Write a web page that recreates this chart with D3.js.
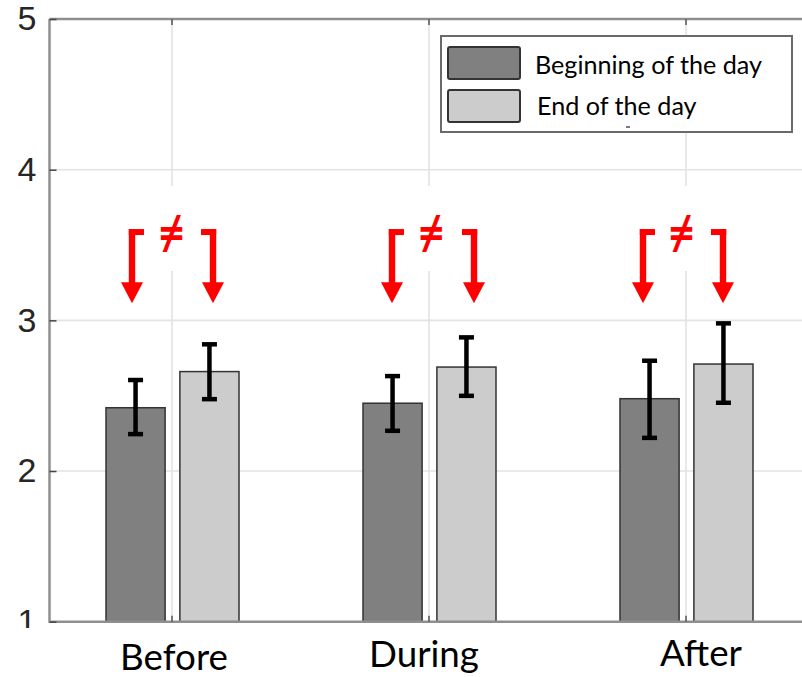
<!DOCTYPE html>
<html><head><meta charset="utf-8">
<script src="https://cdn.jsdelivr.net/npm/d3@7"></script>
<style>html,body{margin:0;padding:0;background:#fff;}svg{display:block;}</style>
</head><body>
<svg id="chart" width="802" height="677"></svg>
<script>
// ---------- data ----------
const categories = ["Before", "During", "After"];
const series = ["Beginning of the day", "End of the day"];
const beginMean = [2.42, 2.45, 2.48];
const beginLow  = [2.245, 2.267, 2.22];
const beginHigh = [2.604, 2.63, 2.732];
const endMean   = [2.66, 2.69, 2.71];
const endLow    = [2.477, 2.499, 2.453];
const endHigh   = [2.841, 2.887, 2.98];
const yTicks = [1, 2, 3, 4, 5];
const annotationSymbol = "≠";

// ---------- layout ----------
const W = 802, H = 677;
const axisLeft = 49.5, axisRight = 803, axisTop = 19, axisBottom = 621.7;
const colors = ["#808080", "#cccccc"];
const svg = d3.select("#chart");

const y = d3.scaleLinear().domain([1, 5]).range([axisBottom, axisTop]);
const x = d3.scaleLinear().domain([1, 3]).range([172, 686]);
const sub = d3.scaleBand().domain(series).range([-66, 67]).paddingInner(0.2);

const rows = categories.map((c, i) => ({
  cat: c, i,
  vals: [
    {s: series[0], m: beginMean[i], lo: beginLow[i], hi: beginHigh[i]},
    {s: series[1], m: endMean[i], lo: endLow[i], hi: endHigh[i]}
  ]
}));

svg.append("rect").attr("width", W).attr("height", H).attr("fill", "#fff");

// grid
const grid = svg.append("g");
grid.selectAll(".hg").data(yTicks.slice(1, -1)).join("line")
  .attr("x1", axisLeft).attr("x2", axisRight)
  .attr("y1", d => y(d)).attr("y2", d => y(d))
  .attr("stroke", "#e3e3e3").attr("stroke-width", 1.6);
grid.selectAll(".vg").data(categories).join("line")
  .attr("x1", (d, i) => x(i + 1)).attr("x2", (d, i) => x(i + 1))
  .attr("y1", axisTop).attr("y2", axisBottom)
  .attr("stroke", "#e3e3e3").attr("stroke-width", 1.6);
// white patch from pasted annotation image
svg.append("rect").attr("x", axisLeft + 2).attr("y", 186).attr("width", W).attr("height", 85).attr("fill", "#fff");

// bars
const g = svg.selectAll(".grp").data(rows).join("g")
  .attr("transform", d => `translate(${x(d.i + 1)},0)`);
g.selectAll("rect.bar").data(d => d.vals).join("rect").attr("class", "bar")
  .attr("x", d => sub(d.s)).attr("width", sub.bandwidth())
  .attr("y", d => y(d.m)).attr("height", d => y(1) - y(d.m))
  .attr("fill", (d, j) => colors[j]).attr("stroke", "#333").attr("stroke-width", 1.5);

// error bars
const eb = g.selectAll("g.eb").data(d => d.vals).join("g").attr("class", "eb")
  .attr("transform", d => `translate(${sub(d.s) + sub.bandwidth() / 2},0)`);
eb.append("line").attr("y1", d => y(d.lo)).attr("y2", d => y(d.hi))
  .attr("stroke", "#000").attr("stroke-width", 4.5);
eb.append("line").attr("x1", -7.5).attr("x2", 7.5).attr("y1", d => y(d.hi)).attr("y2", d => y(d.hi))
  .attr("stroke", "#000").attr("stroke-width", 4.5);
eb.append("line").attr("x1", -7.5).attr("x2", 7.5).attr("y1", d => y(d.lo)).attr("y2", d => y(d.lo))
  .attr("stroke", "#000").attr("stroke-width", 4.5);

// axes frame
const axisColor = "#8f8f8f";
svg.append("line").attr("x1", axisLeft).attr("x2", axisLeft).attr("y1", axisTop).attr("y2", axisBottom + 1)
  .attr("stroke", axisColor).attr("stroke-width", 2.5);
svg.append("line").attr("x1", axisLeft).attr("x2", axisRight).attr("y1", axisBottom).attr("y2", axisBottom)
  .attr("stroke", axisColor).attr("stroke-width", 2.5);
svg.append("line").attr("x1", axisLeft).attr("x2", axisRight).attr("y1", axisTop).attr("y2", axisTop)
  .attr("stroke", axisColor).attr("stroke-width", 2.5);

// y axis ticks + labels via d3 axis
const yAxis = d3.axisLeft(y).tickValues(yTicks).tickFormat(d3.format("d")).tickSize(-7).tickPadding(20);
const ya = svg.append("g").attr("transform", `translate(${axisLeft},0)`).call(yAxis);
ya.select(".domain").remove();
ya.selectAll(".tick line").attr("stroke", "#444").attr("stroke-width", 1.5);
ya.selectAll(".tick text").attr("font-family", "'Liberation Sans', Arial, sans-serif")
  .attr("font-size", 34).attr("fill", "#262626").attr("x", -13);
// x ticks (inward) top & bottom
svg.selectAll(".xtb").data(categories).join("line")
  .attr("x1", (d, i) => x(i + 1)).attr("x2", (d, i) => x(i + 1))
  .attr("y1", axisBottom).attr("y2", axisBottom - 6).attr("stroke", "#555").attr("stroke-width", 1.5);
svg.selectAll(".xtt").data(categories).join("line")
  .attr("x1", (d, i) => x(i + 1)).attr("x2", (d, i) => x(i + 1))
  .attr("y1", axisTop).attr("y2", axisTop + 6).attr("stroke", "#555").attr("stroke-width", 1.5);

// legend
const lg = svg.append("g");
lg.append("rect").attr("x", 441).attr("y", 36).attr("width", 351).attr("height", 96)
  .attr("fill", "#fff").attr("stroke", "#6a6a6a").attr("stroke-width", 2);
const legTargets = [{x: 535, y: 73.5, w: 227}, {x: 537, y: 114.5, w: 161}];
const legendItems = lg.selectAll("g.li").data(series).join("g").attr("class", "li");
legendItems.append("rect").attr("x", 448).attr("y", (d, j) => j === 0 ? 47 : 90)
  .attr("width", 72).attr("height", 32).attr("rx", 2)
  .attr("fill", (d, j) => colors[j]).attr("stroke", "#333").attr("stroke-width", 2);
const legText = legendItems.append("text").text(d => d)
  .attr("x", (d, j) => legTargets[j].x).attr("y", (d, j) => legTargets[j].y)
  .attr("font-family", "Lato, 'Open Sans', sans-serif").attr("font-size", 100).attr("fill", "#000");
(function () {
  const w0 = legText.nodes()[0].getComputedTextLength();
  legText.attr("font-size", 100 * legTargets[0].w / w0);
})();
lg.append("line").attr("x1", 626).attr("x2", 630).attr("y1", 127).attr("y2", 127).attr("stroke", "#222").attr("stroke-width", 1.2);

// red annotations
const arrowDx = [[-40, 41], [-37, 45], [-43, 37]];
const neqDx = [-0.3, 2.4, -4.3];
const red = "#ff0000";
const arrowTop = y(3.606), arrowTip = y(3.113);
rows.forEach((r, i) => {
  const cx = x(i + 1);
  arrowDx[i].forEach((dx, k) => {
    const ax = cx + dx;
    const dir = k === 0 ? 1 : -1;
    const a = svg.append("g");
    a.append("rect").attr("x", ax - 3.2).attr("y", arrowTop).attr("width", 6.4).attr("height", arrowTip - arrowTop - 18).attr("fill", red);
    a.append("rect").attr("x", dir > 0 ? ax - 3.2 : ax - 12).attr("y", arrowTop).attr("width", 15.2).attr("height", 6).attr("fill", red);
    a.append("path").attr("d", `M${ax - 11},${arrowTip - 21}L${ax + 11},${arrowTip - 21}L${ax},${arrowTip}Z`).attr("fill", red);
  });
  svg.append("text").text(annotationSymbol).attr("x", cx + neqDx[i]).attr("y", y(3.6) + 2)
    .attr("text-anchor", "middle").attr("dominant-baseline", "central")
    .attr("font-family", "'Noto Sans', 'DejaVu Sans', sans-serif").attr("font-weight", "bold")
    .attr("font-size", 44).attr("fill", red);
});

// bottom white patch (pasted label image)
svg.append("rect").attr("x", 0).attr("y", 628).attr("width", W).attr("height", H - 628).attr("fill", "#fff");

// category labels
const labelDx = [2, -5, 15];
const labelY = [670, 666.5, 666];
const xl = svg.selectAll(".xl").data(categories).join("text").text(d => d)
  .attr("x", (d, i) => x(i + 1) + labelDx[i]).attr("y", (d, i) => labelY[i])
  .attr("text-anchor", "middle").attr("font-family", "Lato, 'Open Sans', sans-serif")
  .attr("font-size", 100).attr("fill", "#000");
(function () {
  const w1 = xl.nodes()[1].getComputedTextLength();
  xl.attr("font-size", 100 * 110 / w1);
})();
</script>
</body></html>
